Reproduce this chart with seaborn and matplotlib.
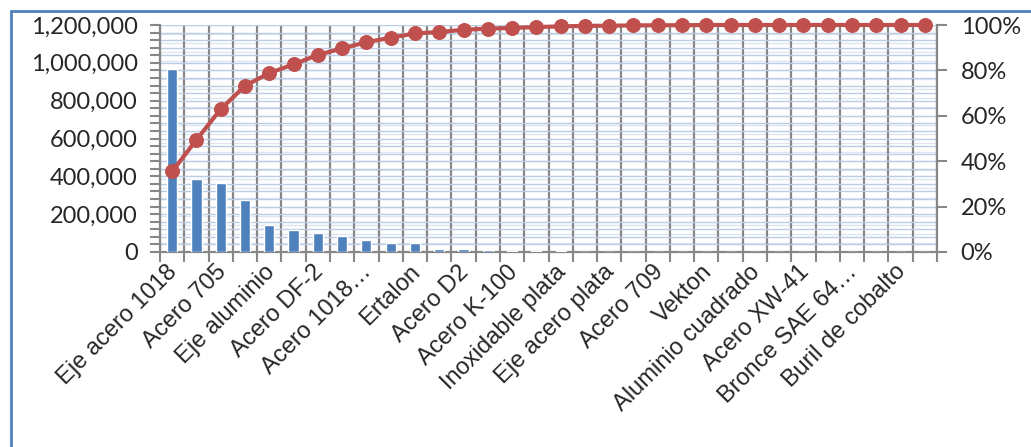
import matplotlib
matplotlib.use("Agg")
import matplotlib.pyplot as plt
from matplotlib.ticker import MultipleLocator, FuncFormatter
from matplotlib.lines import Line2D
from matplotlib.transforms import ScaledTranslation
import seaborn as sns
import numpy as np
import pandas as pd

# values (32 materials, only every other label is shown)
shown_labels = ["Eje acero 1018", "Acero 705", "Eje aluminio", "Acero DF-2",
                "Acero 1018\u2026", "Ertalon", "Acero D2", "Acero K-100",
                "Inoxidable plata", "Eje acero plata", "Acero 709", "Vekton",
                "Aluminio cuadrado", "Acero XW-41", "Bronce SAE 64\u2026",
                "Buril de cobalto"]
amounts = [968000, 387000, 366000, 276000, 142000, 118000, 102000, 86000,
           65000, 49000, 49000, 17000, 16000, 12000, 5000, 5000,
           3000, 2000, 1500, 1000, 800, 600, 500, 400,
           300, 250, 200, 150, 100, 80, 50, 30]
cum_pct = [35.5, 49.4, 62.9, 73.2, 78.8, 82.7, 86.8, 89.7,
           92.4, 94.4, 96.3, 96.9, 97.9, 98.4, 98.7, 99.1,
           99.4, 99.6, 99.7, 99.8, 99.9, 99.9, 100, 100,
           100, 100, 100, 100, 100, 100, 100, 100]

df = pd.DataFrame({"pos": np.arange(len(amounts)), "monto": amounts, "pct": cum_pct})

sns.set_style("white")
grey = "#878787"
W, H = 1031, 447

fig = plt.figure(figsize=(W / 100, H / 100), dpi=100)
ax = fig.add_axes([160 / W, 1 - 252 / H, (937 - 160) / W, (252 - 25) / H])

sns.barplot(data=df, x="pos", y="monto", color="#4F81BD", width=0.42,
            saturation=1, ax=ax, zorder=3)
ax.set_xlim(-0.5, len(amounts) - 0.5)
ax.set_ylim(0, 1200000)
ax.set_xlabel("")
ax.set_ylabel("")

# horizontal grid (primary minor + secondary minor look)
ax.set_axisbelow(True)
ax.yaxis.set_major_locator(MultipleLocator(200000))
ax.yaxis.set_minor_locator(MultipleLocator(40000))
ax.yaxis.set_major_formatter(FuncFormatter(lambda v, p: f"{v:,.0f}"))
ax.grid(axis="y", which="both", color="#B9CDE5", lw=1)
for v in np.arange(48000, 1200000, 48000):
    ax.axhline(v, color="#DCE6F2", lw=1, zorder=0.4)

# category boundaries: vertical grid + tick marks
ax.set_xticks(np.arange(-0.5, len(amounts), 1), minor=True)
ax.set_xticks(np.arange(0, len(amounts), 2))
ax.set_xticklabels(shown_labels, rotation=45, ha="right", va="center",
                   rotation_mode="anchor", fontsize=17, family="Liberation Sans")
ax.grid(axis="x", which="minor", color=grey, lw=1.6)
ax.tick_params(axis="x", which="minor", bottom=True, length=7, width=1.5, color=grey, direction="out")
ax.tick_params(axis="x", which="major", length=0, pad=12)
ax.tick_params(axis="y", which="both", left=True, length=7, width=1.5, color=grey, direction="out")
ax.tick_params(axis="y", which="major", labelsize=17, pad=9, labelfontfamily="Lato")

shift = ScaledTranslation(2 / 100, 0, fig.dpi_scale_trans)
for t in ax.xaxis.get_major_ticks():
    t.label1.set_transform(t.label1.get_transform() + shift)

for s in ["top", "right"]:
    ax.spines[s].set_visible(False)
for s in ["left", "bottom"]:
    ax.spines[s].set_color(grey)
    ax.spines[s].set_linewidth(1.6)

ax2 = ax.twinx()
sns.lineplot(data=df, x="pos", y="pct", ax=ax2, color="#C0504D", lw=3,
             marker="o", markersize=10, markeredgecolor="#C0504D", clip_on=False, zorder=5)
ax2.set_ylim(0, 100)
ax2.set_xlim(-0.5, len(amounts) - 0.5)
ax2.set_ylabel("")
ax2.yaxis.set_major_locator(MultipleLocator(20))
ax2.yaxis.set_major_formatter(FuncFormatter(lambda v, p: f"{v:.0f}%"))
ax2.tick_params(axis="y", right=True, length=7, width=1.5, color=grey, direction="out",
                labelsize=17, pad=10, labelfontfamily="Lato")
ax2.grid(False)
for s in ["top", "left", "bottom"]:
    ax2.spines[s].set_visible(False)
ax2.spines["right"].set_color(grey)
ax2.spines["right"].set_linewidth(1.6)

# chart area border (partly cropped in the original)
fig.add_artist(Line2D([11 / W, 11 / W], [0, 1 - 11 / H], color="#4F81BD", lw=2, transform=fig.transFigure))
fig.add_artist(Line2D([11 / W, 1], [1 - 11 / H, 1 - 11 / H], color="#4F81BD", lw=2, transform=fig.transFigure))

fig.savefig("out.png", dpi=100)
